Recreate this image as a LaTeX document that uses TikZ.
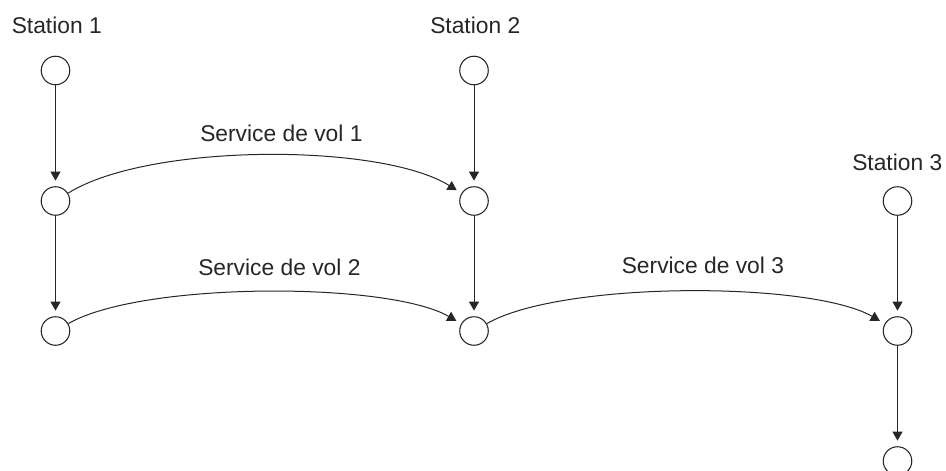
\documentclass[tikz,border=0pt]{standalone}
\usepackage{fontspec}
\setmainfont{Liberation Sans}
\usetikzlibrary{arrows.meta}
\definecolor{ink}{RGB}{38,38,38}
\begin{document}
\begin{tikzpicture}[x=0.75pt,y=-0.75pt,
  stn/.style={circle,draw=ink,line width=0.8pt,fill=white,inner sep=0pt,minimum size=21.4pt},
  lbl/.style={anchor=base west,inner sep=0pt,text=ink,font=\fontsize{17.1}{20}\selectfont},
  conn/.style={draw=ink,line width=0.75pt,-{Triangle[length=6.8pt,width=7.6pt]},shorten >=4.2pt}]
\useasboundingbox (0,0) rectangle (946,471);
\clip (0,0) rectangle (946,471);
% nodes
\node[stn] (a1) at (55.5,70.5) {};
\node[stn] (a2) at (55.5,201) {};
\node[stn] (a3) at (55.5,331) {};
\node[stn] (b1) at (474,70.5) {};
\node[stn] (b2) at (474,201) {};
\node[stn] (b3) at (474,331) {};
\node[stn] (c1) at (897.5,201) {};
\node[stn] (c2) at (897.5,331) {};
\node[stn] (c3) at (897.5,461) {};
% labels
\node[lbl] (s1) at (11.5,33) {Station 1};
\node[lbl] (s2) at (430,33) {Station 2};
\node[lbl] (s3) at (852,170) {Station 3};
\node[lbl] (v1) at (200,141.5) {Service de vol 1};
\node[lbl] (v2) at (198,275) {Service de vol 2};
\node[lbl] (v3) at (621.5,273.5) {Service de vol 3};
% vertical arrows
\draw[conn] (a1) -- (a2);
\draw[conn] (a2) -- (a3);
\draw[conn] (b1) -- (b2);
\draw[conn] (b2) -- (b3);
\draw[conn] (c1) -- (c2);
\draw[conn] (c2) -- (c3);
% flight curves
\draw[conn] (a2) to[out=32,in=148,looseness=0.62] (b2);
\draw[conn] (a3) to[out=30,in=150,looseness=0.55] (b3);
\draw[conn] (b3) to[out=30,in=150,looseness=0.55] (c2);
\end{tikzpicture}
\end{document}
